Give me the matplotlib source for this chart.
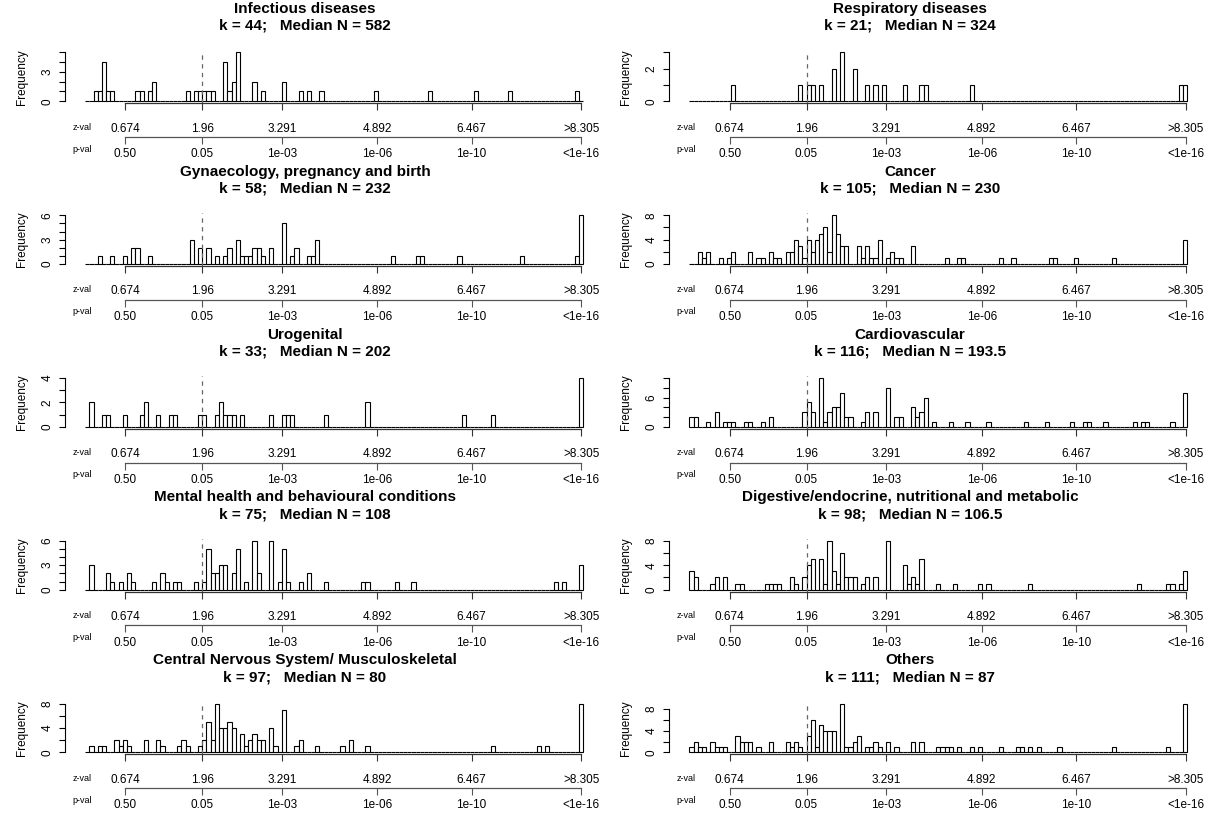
import numpy as np
import matplotlib
matplotlib.use("Agg")
import matplotlib.pyplot as plt

plt.rcParams['font.family'] = ['Liberation Sans', 'DejaVu Sans']

# ---------------- data ----------------
titles = ["Infectious diseases", "Respiratory diseases",
          "Gynaecology, pregnancy and birth", "Cancer",
          "Urogenital", "Cardiovascular",
          "Mental health and behavioural conditions",
          "Digestive/endocrine, nutritional and metabolic",
          "Central Nervous System/ Musculoskeletal", "Others"]
k_values = [44, 21, 58, 105, 33, 116, 75, 98, 97, 111]
median_n = ["582", "324", "232", "230", "202", "193.5", "108", "106.5", "80", "87"]

z_ticks = [0.674, 1.96, 3.291, 4.892, 6.467, 8.305]
z_labels = ["0.674", "1.96", "3.291", "4.892", "6.467", ">8.305"]
p_labels = ["0.50", "0.05", "1e-03", "1e-06", "1e-10", "<1e-16"]
z_crit = 1.96
bin_width = 0.07
n_bins = 119

# histogram bins (index of 0.07-wide bin starting at z=0) and counts
inf_bins = [2, 3, 4, 5, 6, 12, 13, 15, 16, 24, 26, 27, 28, 29, 30, 33, 34, 35, 36, 40, 42, 47, 51, 53, 56, 69, 82, 93, 101, 117]
inf_counts = [1, 1, 4, 1, 1, 1, 1, 1, 2, 1, 1, 1, 1, 1, 1, 4, 1, 2, 5, 2, 1, 2, 1, 1, 1, 1, 1, 1, 1, 1]

resp_bins = [10, 26, 28, 29, 31, 34, 36, 39, 42, 44, 46, 51, 55, 56, 67, 117, 118]
resp_counts = [1, 1, 1, 1, 1, 2, 3, 2, 1, 1, 1, 1, 1, 1, 1, 1, 1]

gyn_bins = [3, 6, 9, 11, 12, 15, 25, 27, 29, 31, 33, 34, 36, 37, 38, 39, 40, 41, 42, 44, 47, 49, 50, 53, 54, 55, 73, 79, 80, 89, 104, 117, 118]
gyn_counts = [1, 1, 1, 2, 2, 1, 3, 2, 2, 1, 1, 2, 3, 1, 1, 1, 2, 2, 1, 2, 5, 1, 2, 1, 1, 3, 1, 1, 1, 1, 1, 1, 6]

cancer_bins = [2, 3, 4, 7, 9, 10, 14, 16, 17, 19, 20, 21, 23, 24, 25, 26, 27, 28, 29, 30, 31, 32, 33, 34, 35, 36, 37, 40, 41, 42, 43, 44, 45, 47, 48, 49, 50, 53, 61, 64, 65, 74, 77, 86, 87, 92, 101, 118]
cancer_counts = [2, 1, 2, 1, 1, 2, 2, 1, 1, 2, 1, 1, 2, 2, 4, 3, 1, 4, 2, 4, 5, 6, 2, 8, 5, 3, 3, 3, 1, 3, 1, 1, 4, 1, 2, 1, 1, 3, 1, 1, 1, 1, 1, 1, 1, 1, 1, 4]

uro_bins = [1, 4, 5, 9, 13, 14, 17, 20, 21, 27, 28, 31, 32, 33, 34, 35, 37, 44, 47, 48, 49, 57, 67, 90, 97, 118]
uro_counts = [2, 1, 1, 1, 1, 2, 1, 1, 1, 1, 1, 1, 2, 1, 1, 1, 1, 1, 1, 1, 1, 1, 2, 1, 1, 4]

cardio_bins = [0, 1, 4, 6, 8, 9, 10, 13, 14, 17, 19, 27, 28, 29, 31, 32, 33, 34, 35, 36, 37, 38, 41, 42, 44, 47, 49, 50, 53, 54, 55, 56, 58, 62, 66, 71, 80, 85, 91, 94, 95, 99, 106, 108, 109, 115, 118]
cardio_counts = [2, 2, 1, 3, 1, 1, 1, 1, 1, 1, 2, 3, 5, 3, 10, 1, 3, 4, 4, 7, 2, 2, 1, 3, 3, 8, 2, 2, 4, 2, 3, 6, 1, 1, 1, 1, 1, 1, 1, 1, 1, 1, 1, 1, 1, 1, 7]

mental_bins = [1, 5, 6, 8, 10, 11, 16, 18, 19, 21, 22, 26, 28, 29, 30, 31, 32, 33, 35, 36, 38, 40, 41, 44, 46, 47, 48, 51, 53, 57, 66, 67, 74, 78, 112, 114, 118]
mental_counts = [3, 2, 1, 1, 2, 1, 1, 2, 1, 1, 1, 1, 1, 5, 2, 2, 3, 3, 2, 5, 1, 6, 2, 6, 1, 5, 1, 1, 2, 1, 1, 1, 1, 1, 1, 1, 3]

digest_bins = [0, 1, 5, 6, 8, 11, 12, 18, 19, 20, 21, 24, 25, 27, 28, 29, 31, 32, 33, 34, 35, 36, 37, 38, 39, 41, 42, 44, 47, 51, 52, 53, 54, 55, 59, 63, 69, 71, 81, 107, 114, 115, 117, 118]
digest_counts = [3, 2, 1, 2, 2, 1, 1, 1, 1, 1, 1, 2, 1, 2, 4, 5, 5, 1, 8, 3, 1, 6, 2, 2, 2, 1, 2, 2, 8, 4, 1, 2, 1, 5, 1, 1, 1, 1, 1, 1, 1, 1, 1, 3]

cns_bins = [1, 3, 4, 7, 8, 9, 10, 14, 17, 18, 22, 23, 24, 27, 28, 29, 30, 31, 32, 33, 34, 35, 37, 38, 39, 40, 41, 42, 44, 45, 47, 50, 51, 55, 61, 63, 67, 97, 108, 110, 118]
cns_counts = [1, 1, 1, 2, 1, 2, 1, 2, 2, 1, 1, 2, 1, 1, 2, 5, 2, 8, 4, 4, 5, 4, 3, 1, 2, 3, 2, 2, 4, 1, 7, 1, 2, 1, 1, 2, 1, 1, 1, 1, 8]

others_bins = [0, 1, 2, 3, 5, 6, 7, 8, 11, 12, 13, 14, 16, 19, 23, 24, 25, 26, 28, 29, 30, 31, 32, 33, 34, 36, 37, 38, 39, 40, 42, 43, 44, 45, 47, 49, 53, 55, 59, 60, 61, 62, 64, 67, 69, 74, 78, 79, 81, 83, 88, 101, 114, 118]
others_counts = [1, 2, 1, 1, 2, 1, 1, 1, 3, 2, 2, 2, 1, 2, 2, 1, 2, 1, 3, 6, 1, 5, 4, 4, 4, 9, 1, 1, 2, 3, 1, 1, 2, 1, 2, 1, 2, 2, 1, 1, 1, 1, 1, 1, 1, 1, 1, 1, 1, 1, 1, 1, 1, 9]

panel_bins = [inf_bins, resp_bins, gyn_bins, cancer_bins, uro_bins,
              cardio_bins, mental_bins, digest_bins, cns_bins, others_bins]
panel_counts = [inf_counts, resp_counts, gyn_counts, cancer_counts, uro_counts,
                cardio_counts, mental_counts, digest_counts, cns_counts, others_counts]

# y-axis tick step and labelled ticks (R drops overlapping labels)
y_step = [1, 1, 1, 2, 1, 2, 1, 2, 2, 2]
y_shown = [[0, 3], [0, 2], [0, 3, 6], [0, 4, 8], [0, 2, 4],
           [0, 6], [0, 3, 6], [0, 4, 8], [0, 4, 8], [0, 4, 8]]

# ---------------- layout (pixels) ----------------
W, H = 1219, 814
fig = plt.figure(figsize=(W / 100, H / 100), dpi=100)

col_x0 = [65.3, 669.5]      # plot region left edge
plot_w = 537.5
title_x = [305, 910]
row_h = 162.8
plot_top = 50.5
plot_bot = 103.2

def fx(px):
    return px / W

def fy(py):
    return 1 - py / H

edges = np.arange(n_bins) * bin_width
xlim = (-0.04 * n_bins * bin_width, n_bins * bin_width * 1.04)
p_axis_loc = -(137 - plot_bot) / (plot_bot - plot_top)

for i in range(10):
    r, c = divmod(i, 2)
    off = r * row_h
    ax = fig.add_axes([fx(col_x0[c]), fy(plot_bot + off),
                       plot_w / W, (plot_bot - plot_top) / H])
    counts = np.zeros(n_bins)
    counts[np.array(panel_bins[i])] = panel_counts[i]
    ymax = counts.max()
    ax.bar(edges, counts, width=bin_width, align='edge', color='white',
           edgecolor='black', linewidth=0.8)
    ax.axvline(z_crit, color='#666666', linestyle=(0, (3.5, 3.5)), linewidth=0.9)
    ax.set_xlim(*xlim)
    ax.set_ylim(-0.04 * ymax, 1.04 * ymax)
    ax.patch.set_visible(False)
    for s in ['top', 'right']:
        ax.spines[s].set_visible(False)

    # y axis
    yt = np.arange(0, ymax + 0.01, y_step[i])
    ax.spines['left'].set_bounds(yt[0], yt[-1])
    ax.spines['left'].set_linewidth(0.8)
    ax.set_yticks(yt)
    ax.set_yticklabels([f"{int(v)}" if int(v) in y_shown[i] else "" for v in yt])
    ax.tick_params(axis='y', length=4.5, width=0.8, pad=4, labelsize=8.5,
                   labelrotation=90)
    for lab in ax.get_yticklabels():
        lab.set_verticalalignment('center')
    ax.set_ylabel("Frequency", fontsize=8.5, labelpad=10)

    # z axis
    ax.spines['bottom'].set_bounds(z_ticks[0], z_ticks[-1])
    ax.spines['bottom'].set_color('#333333')
    ax.spines['bottom'].set_linewidth(0.9)
    ax.set_xticks(z_ticks)
    ax.set_xticklabels(z_labels)
    ax.tick_params(axis='x', length=5, width=0.8, pad=9, labelsize=8.5,
                   color='#333333')

    # p axis
    sec = ax.secondary_xaxis(p_axis_loc)
    sec.spines['bottom'].set_bounds(z_ticks[0], z_ticks[-1])
    sec.spines['bottom'].set_color('#555555')
    sec.spines['bottom'].set_linewidth(0.9)
    sec.set_xticks(z_ticks)
    sec.set_xticklabels(p_labels)
    sec.tick_params(axis='x', length=5, width=0.8, pad=3, labelsize=8.5,
                    color='#555555')

    fig.text(fx(col_x0[c] + 17), fy(127 + off), "z-val", fontsize=6.5,
             ha='center', va='center')
    fig.text(fx(col_x0[c] + 17), fy(149 + off), "p-val", fontsize=6.5,
             ha='center', va='center')

    fig.text(fx(title_x[c]), fy(9 + off), titles[i], fontsize=11,
             fontweight='bold', ha='center', va='center')
    fig.text(fx(title_x[c]), fy(26 + off),
             f"k = {k_values[i]};   Median N = {median_n[i]}", fontsize=11,
             fontweight='bold', ha='center', va='center')

fig.savefig("out.png", dpi=100)
